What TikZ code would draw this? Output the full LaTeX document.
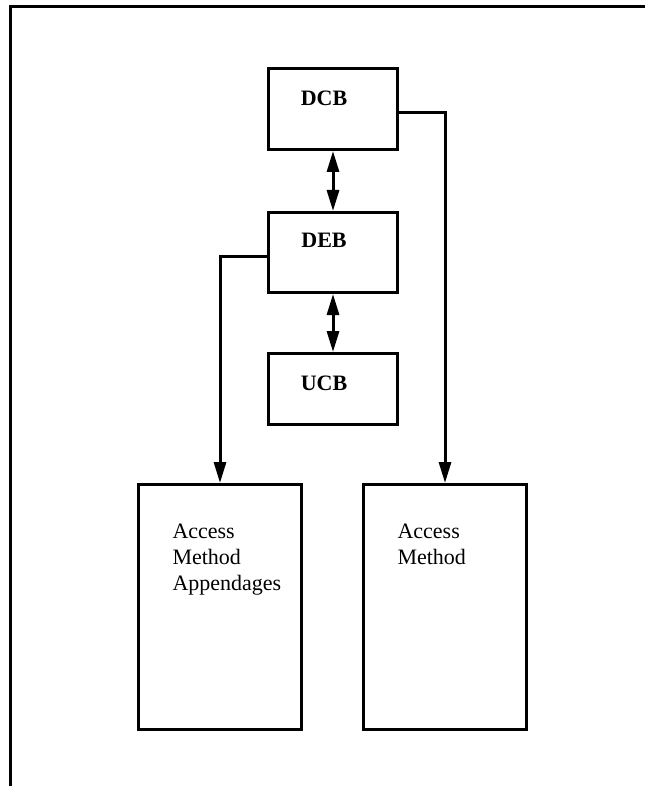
\documentclass[tikz,border=0pt]{standalone}
\usepackage{fontspec}
\setmainfont{Liberation Serif}
\usetikzlibrary{arrows.meta,calc}
\begin{document}
\begin{tikzpicture}[x=1pt,y=-1pt,
  line width=3pt,
  blockbox/.style={draw,line width=3pt,rectangle,inner sep=0pt,anchor=north west},
  blocklabel/.style={font=\fontsize{22}{26}\selectfont\bfseries,inner sep=0pt,anchor=center},
  bodytext/.style={font=\fontsize{22}{26}\selectfont,align=left,inner sep=0pt,anchor=north west},
  link/.style={line width=3pt,-{Triangle[length=21pt,width=12pt]}},
  dlink/.style={line width=3pt,{Triangle[length=21pt,width=12pt]}-{Triangle[length=21pt,width=12pt]}}]
\useasboundingbox (0,0) rectangle (645,786);

% open frame: top and left rules only
\draw[line width=3pt] (645,7) -- (10,7) -- (10,786);

% control blocks
\node[blockbox,minimum width=129pt,minimum height=81pt] (dcb) at (267,67) {};
\node[blockbox,minimum width=129pt,minimum height=80pt] (deb) at (267,211) {};
\node[blockbox,minimum width=129pt,minimum height=71pt] (ucb) at (267,352) {};
\node[blocklabel] (dcbt) at (324,98) {DCB};
\node[blocklabel] (debt) at (324,240) {DEB};
\node[blocklabel] (ucbt) at (324,383) {UCB};

% routine boxes
\node[blockbox,minimum width=163pt,minimum height=245pt] (app) at (137,483) {};
\node[blockbox,minimum width=163pt,minimum height=245pt] (am) at (362,483) {};
\node[bodytext] (appt) at (171,522) {Access\\Method\\Appendages};
\node[bodytext] (amt) at (396,522) {Access\\Method};

% connectors
\coordinate (dcbout) at ($(dcb.north east)+(0,46)$);
\coordinate (debout) at ($(deb.north west)+(0,45)$);
\draw[dlink] (dcb.south) -- (deb.north);
\draw[dlink] (deb.south) -- (ucb.north);
\draw[link] (dcbout) -| (am.north);
\draw[link] (debout) -| (app.north);
\end{tikzpicture}
\end{document}
